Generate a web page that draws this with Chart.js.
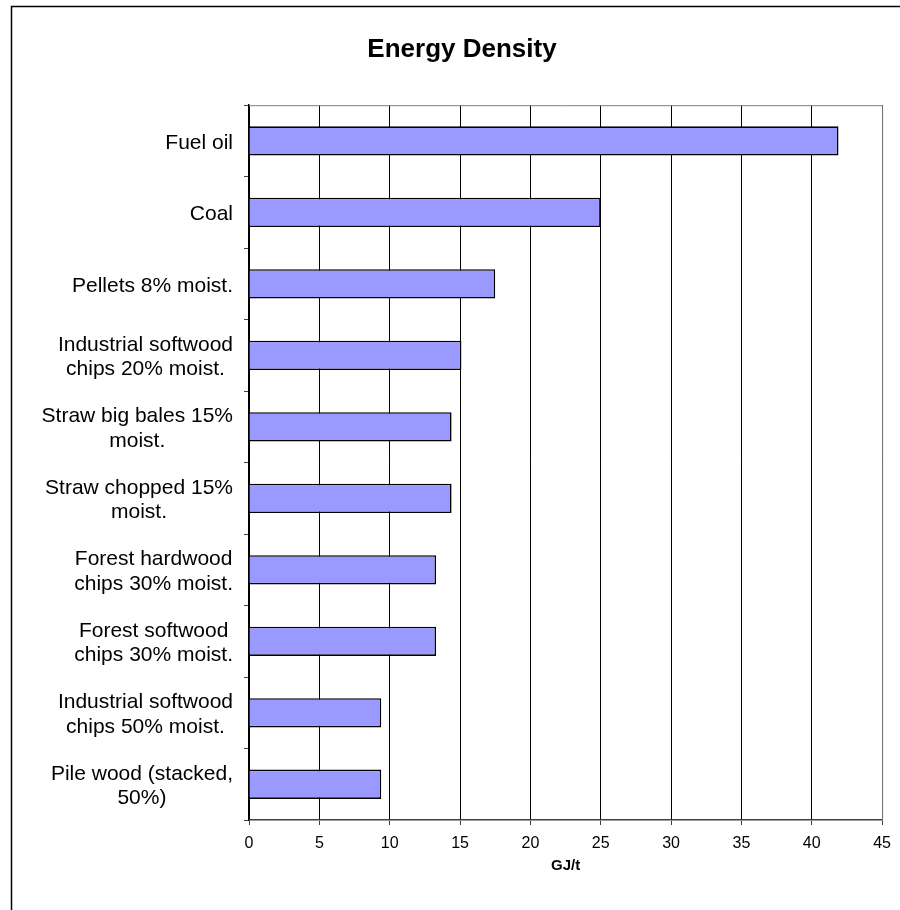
<!DOCTYPE html>
<html><head><meta charset="utf-8">
<script src="https://cdn.jsdelivr.net/npm/chart.js@4"></script>
<style>html,body{margin:0;padding:0;background:#fff}#wrap{width:900px;height:910px;position:relative}</style>
</head><body><div id="wrap"><canvas id="c" width="900" height="910"></canvas></div>
<script>
const categories = [
  ["Fuel oil"],
  ["Coal"],
  ["Pellets 8% moist."],
  ["Industrial softwood", "chips 20% moist."],
  ["Straw big bales 15%", "moist."],
  ["Straw chopped 15%", "moist."],
  ["Forest hardwood", "chips 30% moist."],
  ["Forest softwood", "chips 30% moist."],
  ["Industrial softwood", "chips 50% moist."],
  ["Pile wood (stacked,", "50%)"]
];
const energyValues = [41.9, 25.0, 17.5, 15.1, 14.4, 14.4, 13.3, 13.3, 9.4, 9.4];
const xMin = 0, xMax = 45, xStep = 5;
const chartTitle = "Energy Density";
const xAxisTitle = "GJ/t";

Chart.defaults.font.family = '"Liberation Sans", Arial, sans-serif';
Chart.defaults.color = '#000';

const framePlugin = {
  id: 'frame',
  beforeDraw(chart) {
    const c = chart.ctx;
    c.save();
    c.fillStyle = '#fff';
    c.fillRect(0, 0, chart.width, chart.height);
    c.strokeStyle = '#000';
    c.lineWidth = 1.5;
    c.beginPath();
    c.moveTo(11.5, chart.height);
    c.lineTo(11.5, 6.5);
    c.lineTo(chart.width, 6.5);
    c.stroke();
    c.restore();
  },
  afterDraw(chart) {
    const ctx = chart.ctx, a = chart.chartArea, y = chart.scales.y;
    ctx.save();
    ctx.strokeStyle = '#808080';
    ctx.lineWidth = 1;
    ctx.beginPath();
    ctx.moveTo(a.left, a.top + 0.5);
    ctx.lineTo(a.right + 0.5, a.top + 0.5);
    ctx.lineTo(a.right + 0.5, a.bottom);
    ctx.stroke();
    ctx.font = '21px "Liberation Sans", Arial, sans-serif';
    ctx.fillStyle = '#000';
    ctx.textAlign = 'center';
    ctx.textBaseline = 'middle';
    const lh = 24.5;
    const rightX = a.left - 16;
    y.ticks.forEach((t, i) => {
      const lines = chart.data.labels[i];
      const w = Math.max(...lines.map(s => ctx.measureText(s).width));
      const cx = rightX - w / 2;
      const cy = y.getPixelForTick(i) + 2;
      lines.forEach((s, j) => ctx.fillText(s, cx, cy + (j - (lines.length - 1) / 2) * lh));
    });
    ctx.restore();
  }
};

new Chart(document.getElementById('c'), {
  type: 'bar',
  data: {
    labels: categories,
    datasets: [{
      data: energyValues,
      backgroundColor: '#9999FF',
      borderColor: '#000',
      borderWidth: 1.6,
      barPercentage: 0.41,
      categoryPercentage: 1
    }]
  },
  options: {
    indexAxis: 'y',
    responsive: false,
    devicePixelRatio: 1,
    animation: false,
    layout: { padding: { top: 0, left: 40, right: 16, bottom: 0 } },
    plugins: {
      legend: { display: false },
      tooltip: { enabled: false },
      title: {
        display: true,
        text: chartTitle,
        color: '#000',
        font: { size: 26, weight: 'bold' },
        padding: { top: 34, bottom: 40 }
      }
    },
    scales: {
      x: {
        min: xMin, max: xMax,
        ticks: { stepSize: xStep, font: { size: 16 }, color: '#000', padding: 9 },
        grid: { color: '#000', lineWidth: 1, tickLength: 5, tickColor: '#404040' },
        border: { color: '#404040', width: 1.5 },
        title: { display: true, text: xAxisTitle, color: '#000', font: { size: 15, weight: 'bold' }, padding: { top: 0, bottom: 35 } },
        afterFit(s) { s.height = 90; }
      },
      y: {
        ticks: { display: false },
        grid: { drawOnChartArea: false, drawTicks: true, tickLength: 5, tickColor: '#404040', offset: true },
        border: { color: '#000', width: 1.5 },
        afterFit(s) { s.width = 209; }
      }
    }
  },
  plugins: [framePlugin]
});
</script>
</body></html>
